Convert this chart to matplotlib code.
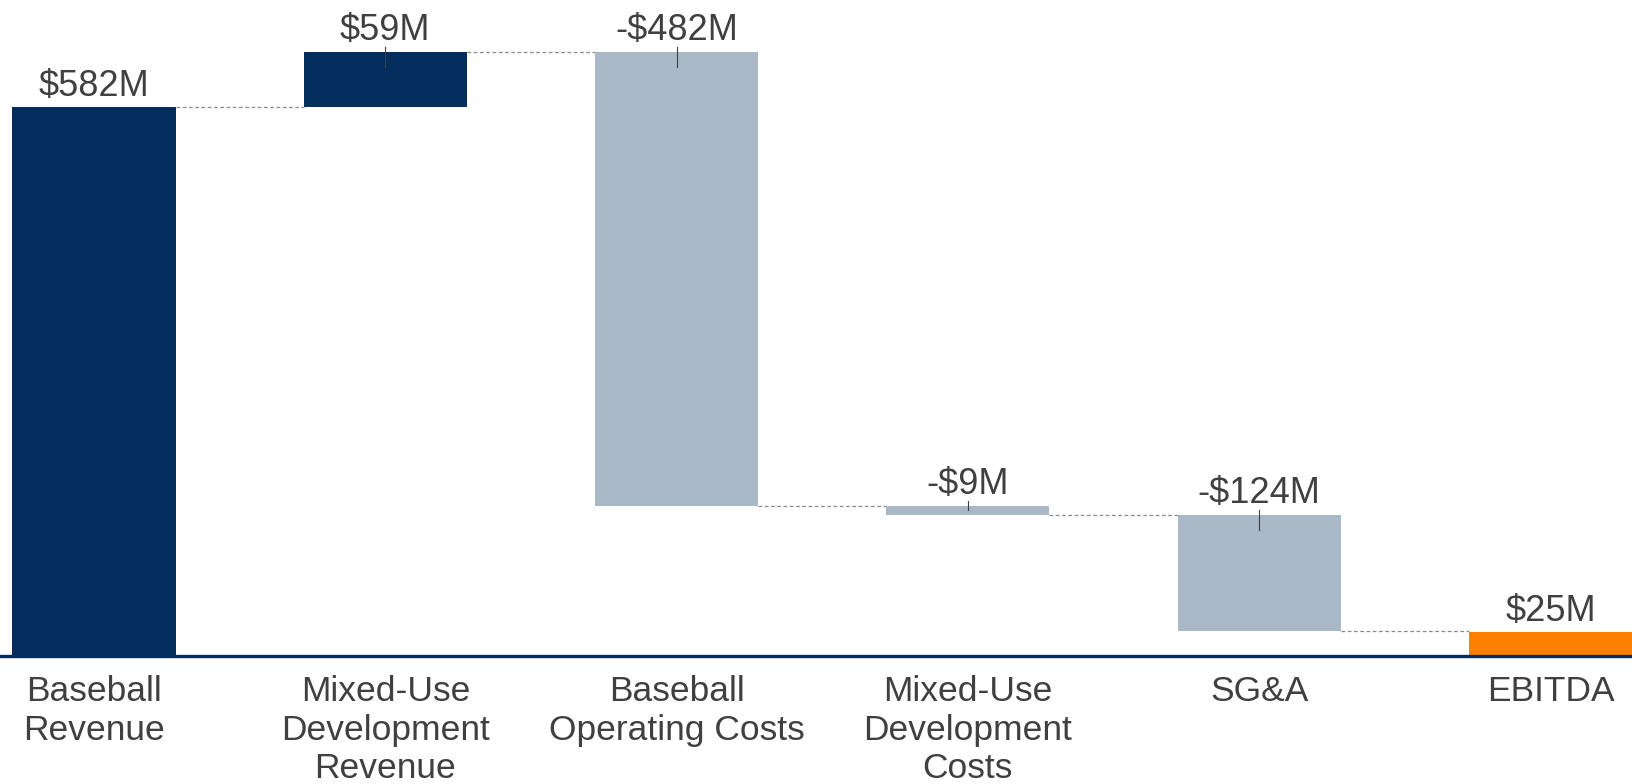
import numpy as np
import matplotlib.pyplot as plt

categories = ['Baseball\nRevenue', 'Mixed-Use\nDevelopment\nRevenue', 'Baseball\nOperating Costs',
              'Mixed-Use\nDevelopment\nCosts', 'SG&A', 'EBITDA']
values = [582, 59, -482, -9, -124, 25]
labels = ['$582M', '$59M', '-$482M', '-$9M', '-$124M', '$25M']
kinds = ['total', 'delta', 'delta', 'delta', 'delta', 'total']

NAVY = '#022d5d'
GREY = '#a8b8c7'
ORANGE = '#ff7f00'
TXT = '#404040'

plt.rcParams['font.family'] = ['Liberation Sans', 'DejaVu Sans']

fig = plt.figure(figsize=(16.32, 7.84), dpi=100)
ax = fig.add_axes([0, 128 / 784, 1, 656 / 784])

px = 696 / 656  # data units per pixel (vertical)
x = np.arange(len(values))
w = 0.56

# compute bottoms / tops
bottoms, tops = [], []
running = 0
for v, k in zip(values, kinds):
    if k == 'total':
        b, t = 0, v
        running = v
    else:
        new = running + v
        b, t = min(running, new), max(running, new)
        running = new
    bottoms.append(b)
    tops.append(t)

colors = []
for v, k, i in zip(values, kinds, x):
    if i == len(values) - 1:
        colors.append(ORANGE)
    elif v >= 0:
        colors.append(NAVY)
    else:
        colors.append(GREY)

heights = [t - b for b, t in zip(bottoms, tops)]
ax.bar(x, heights, bottom=bottoms, width=w, color=colors, zorder=2)

# connectors
levels = []
running = 0
for v, k in zip(values, kinds):
    running = v if k == 'total' else running + v
    levels.append(running)
for i in range(len(values) - 1):
    ax.plot([x[i] + w / 2, x[i + 1] - w / 2], [levels[i], levels[i]],
            ls=(0, (3, 2)), color='#8c8c8c', lw=0.9, zorder=1)

# value labels and small leader ticks
for i in range(len(values)):
    ax.annotate(labels[i], (x[i], tops[i]), xytext=(0, 8.5), textcoords='offset points',
                ha='center', va='baseline', fontsize=26, color=TXT)
    if kinds[i] == 'delta':
        h = heights[i]
        lo = tops[i] - min(15 * px, 0.4 * h)
        ax.plot([x[i], x[i]], [tops[i] + 5 * px, lo], color='#404040', lw=0.8, zorder=3)

ax.set_xlim(-w / 2 - 12.5 / 291.4, len(values) - 1 + w / 2)
ax.set_ylim(0, 696)
ax.set_xticks(x)
ax.set_xticklabels(categories, fontsize=25.5, color=TXT, linespacing=1.2)
ax.tick_params(axis='x', length=0, pad=14)
ax.set_yticks([])
for s in ['top', 'left', 'right']:
    ax.spines[s].set_visible(False)
ax.spines['bottom'].set_color(NAVY)
ax.spines['bottom'].set_linewidth(2.4)
ax.spines['bottom'].set_zorder(4)

fig.savefig('out.png', dpi=100)
